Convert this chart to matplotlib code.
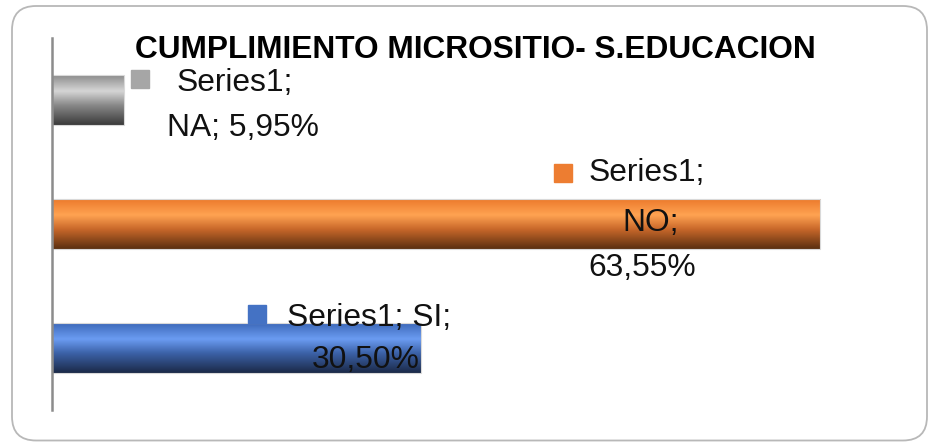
import matplotlib
matplotlib.use("Agg")
import matplotlib.pyplot as plt
import numpy as np
from matplotlib.patches import FancyBboxPatch
from matplotlib.colors import LinearSegmentedColormap
from matplotlib import font_manager

# ---- data ----
categories = ["NA", "NO", "SI"]
values = [5.95, 63.55, 30.50]
series_name = "Series1"
title = "CUMPLIMIENTO MICROSITIO- S.EDUCACION"

# ---- style ----
key_colors = ["#a6a6a6", "#ed7d31", "#4472c4"]
gradients = [
    [(0.0, "#8c8c8c"), (0.32, "#d6d6d6"), (0.6, "#8a8a8a"), (1.0, "#3a3a3a")],
    [(0.0, "#ec7a2c"), (0.32, "#ffa352"), (0.6, "#c9682a"), (1.0, "#5a2f10")],
    [(0.0, "#3d69b9"), (0.32, "#6b9cf2"), (0.6, "#3c62a8"), (1.0, "#1b2947")],
]

def pick(fams):
    out = []
    for f in fams:
        try:
            font_manager.findfont(f, fallback_to_default=False)
            out.append(f)
        except Exception:
            pass
    return out + ["DejaVu Sans"]

FAM = pick(["Liberation Sans Narrow", "Liberation Sans"])

W, H = 929, 442
fig = plt.figure(figsize=(W / 100, H / 100), dpi=100)
fig.patch.set_facecolor("white")

# rounded chart frame
frame = FancyBboxPatch((12, 1.5), 915, 434.5, boxstyle="round,pad=0,rounding_size=24",
                       transform=None, fc="white", ec="#b8b8b8", lw=1.3, zorder=0)
fig.add_artist(frame)

ax = fig.add_axes([52 / W, (H - 410) / H, (898 - 52) / W, 372 / H])
ax.set_facecolor("none")
for s in ["top", "right", "bottom"]:
    ax.spines[s].set_visible(False)
ax.spines["left"].set_color("#8c8c8c")
ax.spines["left"].set_linewidth(1.8)
ax.set_xticks([])
ax.set_yticks([])

ypos = np.arange(len(categories))
bars = ax.barh(ypos, values, height=0.4, color="none", edgecolor="#d9d9d9", linewidth=0.8, zorder=2)
for rect, stops in zip(bars, gradients):
    cmap = LinearSegmentedColormap.from_list("g", stops)
    grad = np.linspace(0, 1, 256).reshape(-1, 1)
    x0, y0 = rect.get_x(), rect.get_y()
    w, h = rect.get_width(), rect.get_height()
    im = ax.imshow(grad, cmap=cmap, aspect="auto", extent=(x0, x0 + w, y0 + h, y0),
                   origin="upper", zorder=1, interpolation="bicubic")
    im.set_clip_path(rect)
ax.set_xlim(0, 70)
ax.set_ylim(2.5, -0.5)

def fmt(v):
    return f"{v:.2f}".replace(".", ",") + "%"

label_lines = [
    [f"{series_name};", f"{categories[0]}; {fmt(values[0])}"],
    [f"{series_name};", f"{categories[1]};", fmt(values[1])],
    [f"{series_name}; {categories[2]};", fmt(values[2])],
]
line_pos = [
    [(15.1, -0.14), (15.8, 0.225)],
    [(49.2, 0.585), (49.5, 0.99), (48.8, 1.355)],
    [(26.2, 1.755), (26.0, 2.095)],
]
marker_pos = [(7.24, -0.17), (42.24, 0.585), (17.0, 1.725)]

FS = 24
texts = []
for lines, poss, mp, kc in zip(label_lines, line_pos, marker_pos, key_colors):
    for t, (x, y) in zip(lines, poss):
        texts.append(ax.text(x, y, t, ha="center", va="center", fontsize=FS, family=FAM,
                             color="#111111", zorder=5, clip_on=False))
    ax.plot([mp[0]], [mp[1]], marker="s", markersize=13.5, color=kc, linestyle="none",
            zorder=4, clip_on=False)

ttl = fig.text(475 / W, 1 - 50 / H, title, ha="center", va="center", fontsize=26,
               fontweight="bold", family=FAM, color="black")

# fit text widths to the reference
fig.canvas.draw()
r = fig.canvas.get_renderer()
bw = ttl.get_window_extent(r).width
ttl.set_fontsize(26 * 680 / bw)
lw_ = texts[1].get_window_extent(r).width
for t in texts:
    t.set_fontsize(FS * 152 / lw_)

fig.savefig("out.png", dpi=100, facecolor="white")
